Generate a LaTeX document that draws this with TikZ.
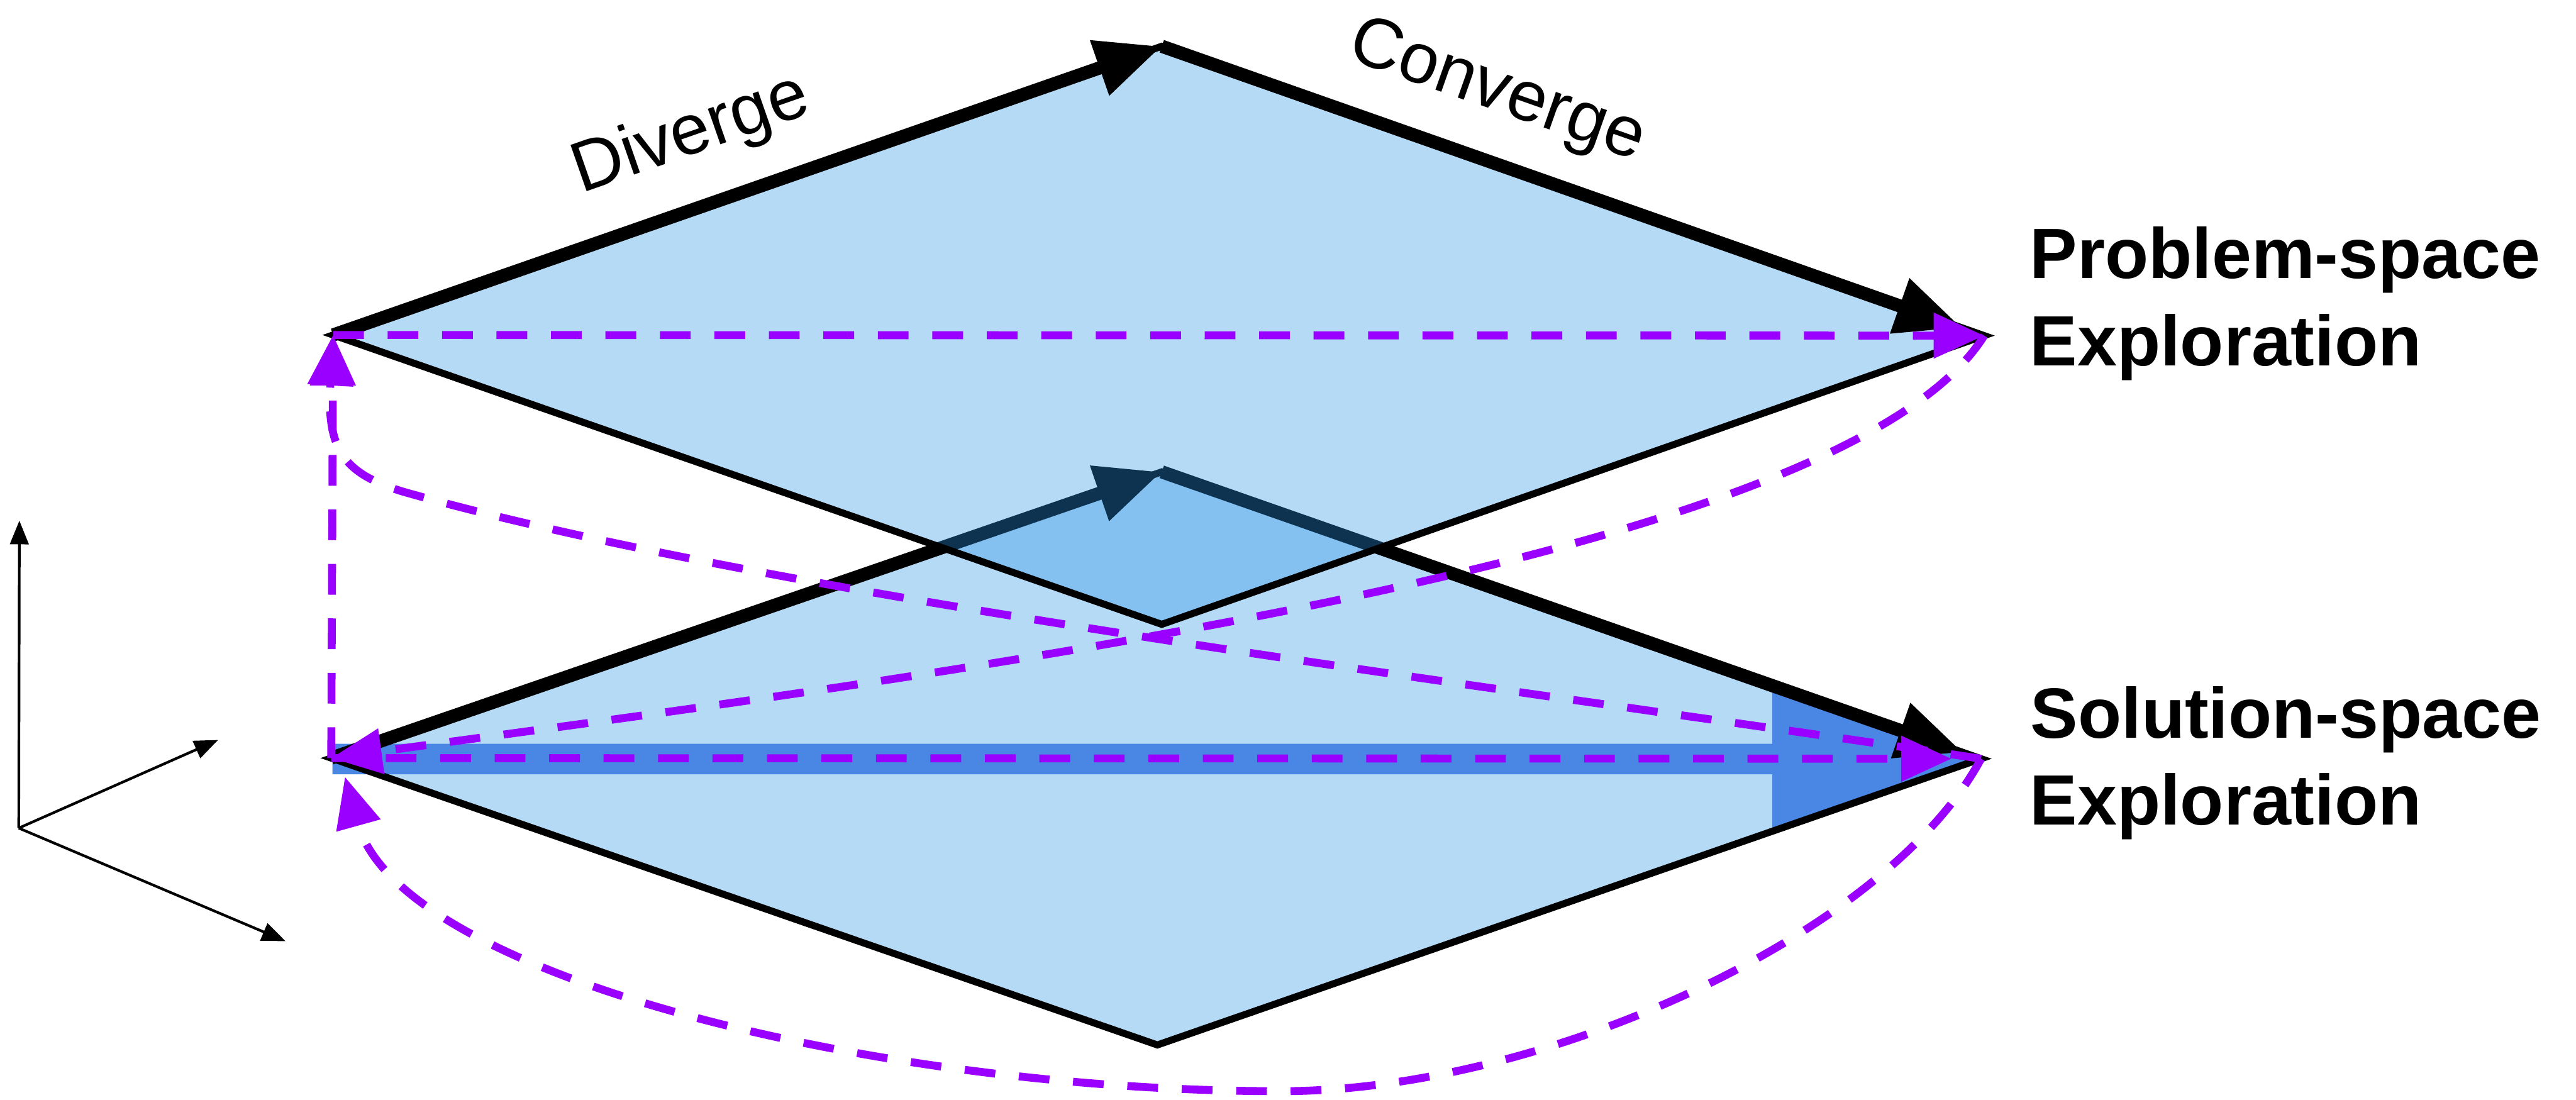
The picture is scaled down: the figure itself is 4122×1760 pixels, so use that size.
\documentclass[tikz,border=0pt]{standalone}
\usepackage{fontspec}
\setmainfont{Liberation Sans}
\usetikzlibrary{arrows.meta}
\definecolor{spacefill}{RGB}{41,148,230}
\definecolor{spaceband}{RGB}{74,134,227}
\definecolor{loopviolet}{RGB}{153,0,255}

\begin{document}
\begin{tikzpicture}[x=0.05mm, y=-0.05mm,
  space/.style={fill=spacefill, fill opacity=0.35},
  rim/.style={draw=black, line width=1.6pt},
  phase/.style={line width=3pt, -{Triangle[length=15pt, width=12.5pt]}},
  loop/.style={draw=loopviolet, line width=1.8pt, dash pattern=on 7pt off 5.4pt,
    -{Triangle[length=11.5pt, width=10pt]}},
  axis/.style={line width=0.6pt, -{Triangle[length=5.4pt, width=4.2pt]}},
  phaselabel/.style={font=\fontsize{16.2}{19.9}\selectfont, inner sep=0pt},
  spacelabel/.style={font=\fontsize{16.2}{19.9}\selectfont\bfseries, anchor=base west, inner sep=0pt}]
\useasboundingbox (0,0) rectangle (4122,1760);

% corners of the two spaces
\coordinate (pL) at (533,536);
\coordinate (pT) at (1859,74);
\coordinate (pR) at (3175,537);
\coordinate (pB) at (1859,999);
\coordinate (sL) at (530,1213);
\coordinate (sT) at (1859,755);
\coordinate (sR) at (3170,1214);
\coordinate (sB) at (1852,1672);
\coordinate (backturn) at (646,787);
\coordinate (loopfoot) at (2050,1746);
\coordinate (loopend) at (552,1243);

% solution space
\fill[space] (sL) -- (sT) -- (sR) -- (sB) -- cycle;
\fill[spaceband] (532,1190) -- (2836,1190) -- (2836,1097) -- (sR) -- (2836,1330) -- (2836,1239) -- (532,1239) -- cycle;
\draw[rim] (sL) -- (sT) -- (sR) -- (sB) -- cycle;
\draw[phase] (sL) -- (sT);
\draw[phase, shorten >=4.4pt] (sT) -- (sR);

% problem space
\fill[space] (pL) -- (pT) -- (pR) -- (pB) -- cycle;
\draw[rim] (pL) -- (pT) -- (pR) -- (pB) -- cycle;
\draw[phase] (pL) -- node[phaselabel, sloped, pos=0.46, above=7pt] {Diverge} (pT);
\draw[phase, shorten >=5.4pt] (pT) -- node[phaselabel, sloped, pos=0.38, above=6.5pt] {Converge} (pR);

% iterations
\draw[loop] (pL) -- (pR);
\draw[loop, shorten >=6.7pt] (sL) -- (sR);
\draw[loop] (sL) -- (pL);
\draw[loop] (pR) .. controls +(-225,363) and +(970,-133) .. (sL);
\draw[loop] (sR) .. controls +(-800,-120) and +(600,170) .. (backturn)
  .. controls +(-100,-30) and +(-10,180) .. (pL);
\draw[loop] (sR) .. controls +(-150,280) and +(420,0) .. (loopfoot)
  .. controls +(-650,0) and +(88,317) .. (loopend);

% axes
\coordinate (origin) at (30,1325);
\coordinate (axup) at (31,833);
\coordinate (axback) at (349,1184);
\coordinate (axfront) at (457,1506);
\draw[axis] (origin) -- (axup);
\draw[axis] (origin) -- (axback);
\draw[axis] (origin) -- (axfront);

\node[spacelabel] (probA) at (3247,445) {Problem-space};
\node[spacelabel] (probB) at (3247,585) {Exploration};
\node[spacelabel] (solA) at (3248,1181) {Solution-space};
\node[spacelabel] (solB) at (3247,1320) {Exploration};
\end{tikzpicture}
\end{document}
